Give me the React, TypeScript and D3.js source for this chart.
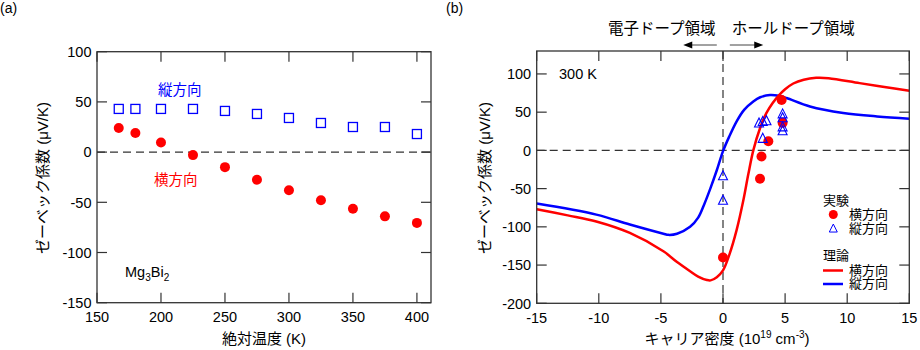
import React from "react";
import { scaleLinear, line, curveCatmullRom } from "d3";

// ---- panel (a): temperature dependence, Mg3Bi2 ----
const tempK = [167, 180, 200, 225, 250, 275, 300, 325, 350, 375, 400];
const seebeckTransverse = [24, 19, 9.5, -3, -15, -27.5, -38, -48, -56.5, -64, -70.5];
const seebeckLongitudinal = [43, 43, 43, 43, 41, 38, 34, 29, 25, 25, 18];
const xTicksA = [150, 200, 250, 300, 350, 400];
const yTicksA = [-150, -100, -50, 0, 50, 100];

// ---- panel (b): carrier density dependence at 300 K ----
const theoryRedN = [-15, -12.5, -10.2, -7.5, -4.8, -3.7, -2.65, -2, -1.3, -1, -0.5, 0, 0.5, 1.1, 1.63, 2.04, 2.44, 3, 3.5, 4, 4.5, 5, 5.66, 6.5, 7.5, 8.5, 11, 13, 15];
const theoryRedS = [-77, -85, -93, -108, -132, -146, -158, -165, -169.5, -170, -166, -157, -137, -104, -66, -31, 0, 30, 49, 62, 72, 80, 87.5, 92.5, 95, 94.5, 88, 83, 78];
const theoryBlueN = [-15, -10.2, -7.5, -4.8, -4.4, -3.7, -2.65, -2, -1.5, -1, -0.5, 0, 0.5, 1.1, 1.7, 2.44, 3, 3.78, 4.5, 5.12, 7, 9.68, 12.4, 15];
const theoryBlueS = [-69.6, -84, -97, -109, -110.5, -109, -100, -88, -70, -49, -26, -1, 18, 38, 53, 64, 69.5, 72.5, 71.5, 68.5, 57.5, 49, 44.4, 41.5];
const expRedN = [0, 2.98, 3.1, 3.65, 4.72, 4.8];
const expRedS = [-140, -37, -8, 12, 66, 36];
const expBlueN = [0, 0, 2.9, 3.2, 3.5, 3.2, 4.8, 4.8, 4.8, 4.8];
const expBlueS = [-34, -66, 35, 37, 38, 15, 47, 42, 30, 25];
const xTicksB = [-15, -10, -5, 0, 5, 10, 15];
const yTicksB = [-200, -150, -100, -50, 0, 50, 100];

const FONT = "'Liberation Sans', Arial, Helvetica, 'Noto Sans CJK JP', sans-serif";
const RED = "#ff0000";
const BLUE = "#0000ff";
const AXIS = "#333";

const xA = scaleLinear().domain([150, 411]).range([97, 431]);
const yA = scaleLinear().domain([-150, 100]).range([302.7, 51.7]);
const xB = scaleLinear().domain([-15, 15]).range([536.7, 909.3]);
const yB = scaleLinear().domain([-200, 130]).range([303.3, 51]);

type Sc = ReturnType<typeof scaleLinear<number, number>>;

function Frame({ x, y, xt, yt, tick = 10 }: { x: Sc; y: Sc; xt: number[]; yt: number[]; tick?: number }) {
  const [x0, x1] = x.range();
  const [y0, y1] = y.range(); // y0 bottom, y1 top
  return (
    <g>
      {xt.map((v) => (
        <g key={"x" + v}>
          <line x1={x(v)} x2={x(v)} y1={y0} y2={y0 - tick} stroke={AXIS} strokeWidth={1.2} />
          <line x1={x(v)} x2={x(v)} y1={y1} y2={y1 + tick} stroke={AXIS} strokeWidth={1.2} />
          <text x={x(v)} y={y0 + 19.5} textAnchor="middle" fontSize={14.5} fontFamily={FONT} fill="#000">
            {v}
          </text>
        </g>
      ))}
      {yt.map((v) => (
        <g key={"y" + v}>
          <line x1={x0} x2={x0 + tick} y1={y(v)} y2={y(v)} stroke={AXIS} strokeWidth={1.2} />
          <line x1={x1} x2={x1 - tick} y1={y(v)} y2={y(v)} stroke={AXIS} strokeWidth={1.2} />
          <text x={x0 - 5.5} y={y(v)} dy="0.36em" textAnchor="end" fontSize={14.5} fontFamily={FONT} fill="#000">
            {v}
          </text>
        </g>
      ))}
      <rect x={x0} y={y1} width={x1 - x0} height={y0 - y1} fill="none" stroke={AXIS} strokeWidth={1.3} />
    </g>
  );
}

const tri = (cx: number, cy: number, s: number) =>
  `M${cx},${cy - s * 0.62} L${cx + s / 2},${cy + s * 0.38} L${cx - s / 2},${cy + s * 0.38} Z`;

export default function App() {
  const lineB = line<[number, number]>()
    .x((d) => xB(d[0]))
    .y((d) => yB(d[1]))
    .curve(curveCatmullRom.alpha(0.5));
  const redPts = theoryRedN.map((n, i) => [n, theoryRedS[i]] as [number, number]);
  const bluePts = theoryBlueN.map((n, i) => [n, theoryBlueS[i]] as [number, number]);

  const [ax0, ax1] = xA.range();
  const [bx0, bx1] = xB.range();
  const [by0, by1] = yB.range();

  return (
    <svg width={920} height={350} style={{ position: "absolute", left: 0, top: 0, display: "block", background: "#fff" }}>
      {/* ---------- (a) ---------- */}
      <text x={0} y={13} fontSize={14} fontFamily={FONT}>(a)</text>
      <line x1={ax0} x2={ax1} y1={yA(0)} y2={yA(0)} stroke={AXIS} strokeWidth={1.2} strokeDasharray="8,5" />
      {tempK.map((t, i) => (
        <rect key={"sq" + t} x={xA(t) - 4.5} y={yA(seebeckLongitudinal[i]) - 4.5} width={9} height={9} fill="none" stroke={BLUE} strokeWidth={1.3} />
      ))}
      {tempK.map((t, i) => (
        <circle key={"c" + t} cx={xA(t)} cy={yA(seebeckTransverse[i])} r={5} fill={RED} />
      ))}
      <Frame x={xA} y={yA} xt={xTicksA} yt={yTicksA} />
      <text x={158} y={90} dy="0.36em" fontSize={14.5} fontFamily={FONT} fill={BLUE}>縦方向</text>
      <text x={154} y={180} dy="0.36em" fontSize={14.5} fontFamily={FONT} fill={RED}>横方向</text>
      <text x={125} y={272} dy="0.36em" fontSize={14.5} fontFamily={FONT}>
        Mg<tspan fontSize={10} dy={4}>3</tspan>
        <tspan dy={-4}>Bi</tspan>
        <tspan fontSize={10} dy={4}>2</tspan>
      </text>
      <text transform="translate(48,178) rotate(-90)" textAnchor="middle" fontSize={15} fontFamily={FONT}>
        ゼーベック係数 (μV/K)
      </text>
      <text x={264} y={344} textAnchor="middle" fontSize={15} fontFamily={FONT}>絶対温度 (K)</text>

      {/* ---------- (b) ---------- */}
      <text x={446} y={13} fontSize={14} fontFamily={FONT}>(b)</text>
      <line x1={bx0} x2={bx1} y1={yB(0)} y2={yB(0)} stroke={AXIS} strokeWidth={1.2} strokeDasharray="8,5" />
      <line x1={xB(0)} x2={xB(0)} y1={by1} y2={by0} stroke={AXIS} strokeWidth={1.2} strokeDasharray="8,5" />
      <path d={lineB(bluePts) ?? ""} fill="none" stroke={BLUE} strokeWidth={2.5} />
      <path d={lineB(redPts) ?? ""} fill="none" stroke={RED} strokeWidth={2.5} />
      {expRedN.map((n, i) => (
        <circle key={"rb" + i} cx={xB(n)} cy={yB(expRedS[i])} r={5} fill={RED} />
      ))}
      {expBlueN.map((n, i) => (
        <path key={"tb" + i} d={tri(xB(n), yB(expBlueS[i]), 9)} fill="none" stroke={BLUE} strokeWidth={1.1} />
      ))}
      <Frame x={xB} y={yB} xt={xTicksB} yt={yTicksB} />
      <text x={559} y={74} dy="0.36em" fontSize={14.5} fontFamily={FONT}>300 K</text>

      {/* doping region labels */}
      <text x={xB(-0.6)} y={28} dy="0.36em" textAnchor="end" fontSize={15.5} fontFamily={FONT}>電子ドープ領域</text>
      <text x={xB(0.7)} y={28} dy="0.36em" fontSize={15.5} fontFamily={FONT}>ホールドープ領域</text>
      <line x1={xB(-0.5)} x2={xB(-2.7)} y1={45} y2={45} stroke="#444" strokeWidth={1} />
      <path d={`M${xB(-3.2)},45 L${xB(-3.2) + 9},41.5 L${xB(-3.2) + 9},48.5 Z`} fill="#000" />
      <line x1={xB(0.55)} x2={xB(2.8)} y1={45} y2={45} stroke="#444" strokeWidth={1} />
      <path d={`M${xB(3.24)},45 L${xB(3.24) - 9},41.5 L${xB(3.24) - 9},48.5 Z`} fill="#000" />

      {/* legend */}
      <g fontFamily={FONT} fontSize={13}>
        <text x={823} y={200} dy="0.36em">実験</text>
        <circle cx={833.3} cy={214.5} r={4.5} fill={RED} />
        <text x={849} y={214.5} dy="0.36em">横方向</text>
        <path d={tri(833.3, 229, 8)} fill="none" stroke={BLUE} strokeWidth={1} />
        <text x={849} y={228.5} dy="0.36em">縦方向</text>
        <text x={823} y={255.5} dy="0.36em">理論</text>
        <line x1={823} x2={843} y1={270.5} y2={270.5} stroke={RED} strokeWidth={2.5} />
        <text x={849} y={270} dy="0.36em">横方向</text>
        <line x1={823} x2={843} y1={284} y2={284} stroke={BLUE} strokeWidth={2.5} />
        <text x={849} y={283.5} dy="0.36em">縦方向</text>
      </g>

      <text transform="translate(490,178) rotate(-90)" textAnchor="middle" fontSize={15} fontFamily={FONT}>
        ゼーベック係数 (μV/K)
      </text>
      <text x={727} y={344} textAnchor="middle" fontSize={15} fontFamily={FONT}>
        キャリア密度 (10<tspan fontSize={10} dy={-6}>19</tspan>
        <tspan dy={6}> cm</tspan>
        <tspan fontSize={10} dy={-6}>-3</tspan>
        <tspan dy={6}>)</tspan>
      </text>
    </svg>
  );
}
